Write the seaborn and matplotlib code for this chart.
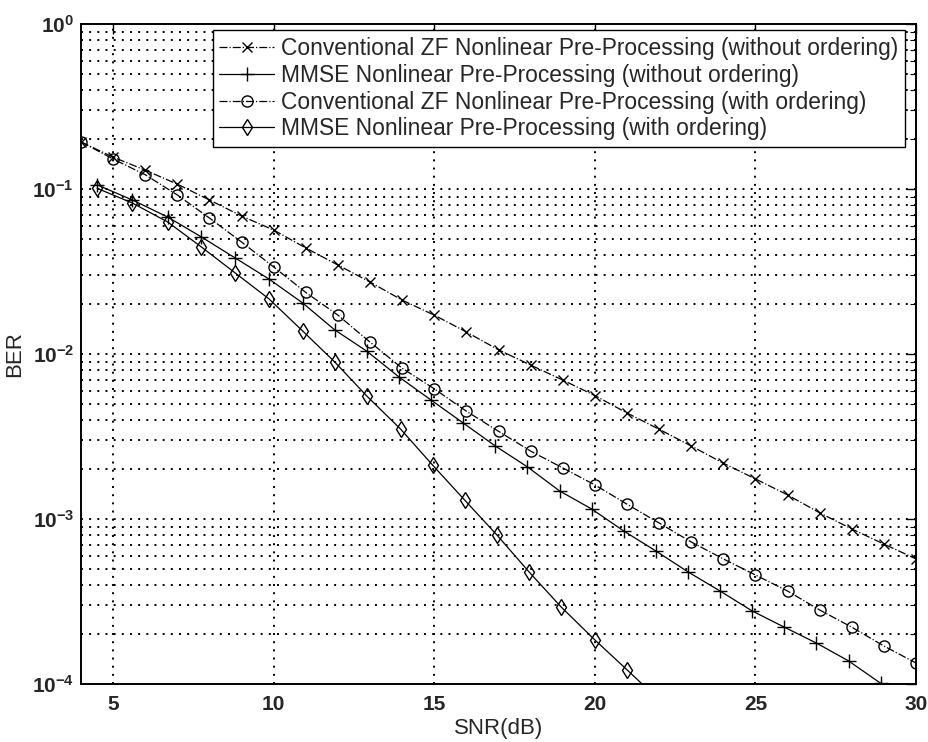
import numpy as np
import pandas as pd
import matplotlib
matplotlib.use("Agg")
import matplotlib.pyplot as plt
from matplotlib.ticker import LogLocator, FixedLocator, NullFormatter
import seaborn as sns

# SNR grids (dB)
snr_zf = [4, 5, 6, 7, 8, 9, 10, 11, 12, 13, 14, 15, 16, 17, 18, 19, 20,
          21, 22, 23, 24, 25, 26, 27, 28, 29, 30]
snr_mmse = [4.5, 5.6, 6.7, 7.75, 8.8, 9.85, 10.9, 11.9, 12.9, 13.9, 14.9,
            15.9, 16.9, 17.9, 18.9, 19.9, 20.9, 21.9, 22.9, 23.9, 24.9,
            25.9, 26.9, 27.9, 28.9]
snr_mmse_ord = [4.5, 5.6, 6.7, 7.75, 8.8, 9.85, 10.9, 11.9, 12.9, 13.95,
                14.95, 15.95, 16.95, 17.95, 18.95, 20.0, 21.0, 22.0]

# BER curves
ber_zf_noord = [0.193, 0.156, 0.130, 0.107, 0.0858, 0.0686, 0.0564, 0.0439,
                0.0346, 0.0273, 0.0212, 0.0172, 0.0136, 0.0106, 0.00857,
                0.00695, 0.0056, 0.00439, 0.0035, 0.00277, 0.00218, 0.00175,
                0.0014, 0.00109, 0.00087, 0.000705, 0.000573]
ber_mmse_noord = [0.106, 0.0858, 0.0676, 0.0512, 0.0382, 0.0285, 0.0204,
                  0.0140, 0.0104, 0.00726, 0.00526, 0.00382, 0.00277, 0.00207,
                  0.00148, 0.00115, 0.000846, 0.00064, 0.000478, 0.000366,
                  0.000277, 0.000221, 0.000177, 0.000138, 0.000101]
ber_zf_ord = [0.193, 0.152, 0.122, 0.092, 0.0667, 0.0477, 0.0337, 0.0236,
              0.0172, 0.0118, 0.0082, 0.00615, 0.00450, 0.00340, 0.00258,
              0.00204, 0.00161, 0.00123, 0.000946, 0.000726, 0.000573,
              0.000458, 0.000366, 0.000281, 0.000221, 0.00017, 0.000134]
ber_mmse_ord = [0.101, 0.0822, 0.0631, 0.0445, 0.031, 0.0216, 0.0138,
                0.00895, 0.00556, 0.00351, 0.00212, 0.0013, 0.0008, 0.000478,
                0.000293, 0.000185, 0.000122, 0.00008]

labels = [
    "Conventional ZF Nonlinear Pre-Processing (without ordering)",
    "MMSE Nonlinear Pre-Processing (without ordering)",
    "Conventional ZF Nonlinear Pre-Processing (with ordering)",
    "MMSE Nonlinear Pre-Processing (with ordering)",
]

sns.set_style("white")
plt.rcParams["font.family"] = ["Liberation Sans", "DejaVu Sans"]
plt.rcParams["mathtext.fontset"] = "custom"
plt.rcParams["mathtext.rm"] = "Liberation Sans"
plt.rcParams["mathtext.default"] = "regular"

fig = plt.figure(figsize=(9.29, 7.42), dpi=100)
ax = fig.add_axes([81 / 929, 1 - 684 / 742, 835 / 929, 660 / 742])

series = [
    (snr_zf, ber_zf_noord, "-.", "x", 7),
    (snr_mmse, ber_mmse_noord, "-", "+", 10),
    (snr_zf, ber_zf_ord, "-.", "o", 8),
    (snr_mmse_ord, ber_mmse_ord, "-", "d", 8),
]
for (xs, ys, ls, mk, ms), lab in zip(series, labels):
    df = pd.DataFrame({"SNR": xs, "BER": ys})
    sns.lineplot(data=df, x="SNR", y="BER", ax=ax, color="black",
                 linestyle=ls, linewidth=0.9, marker=mk, markersize=ms,
                 markerfacecolor="none", markeredgecolor="black",
                 markeredgewidth=1.0, label=lab, sort=False)

ax.set_yscale("log")
ax.set_xlim(4, 30)
ax.set_ylim(1e-4, 1)

ax.xaxis.set_major_locator(FixedLocator([5, 10, 15, 20, 25, 30]))
ax.yaxis.set_major_locator(LogLocator(base=10, numticks=10))
ax.yaxis.set_minor_locator(LogLocator(base=10, subs=np.arange(2, 10), numticks=20))
ax.yaxis.set_minor_formatter(NullFormatter())

grid_kw = dict(color="black", linestyle=(0, (1, 3.2)), linewidth=1.4)
ax.grid(True, which="major", axis="both", **grid_kw)
ax.grid(True, which="minor", axis="y", **grid_kw)

ax.tick_params(which="both", direction="in", top=True, right=True,
               color="black", labelsize=15)
ax.tick_params(axis="x", which="major", pad=8)
ax.tick_params(axis="y", which="major", pad=5)
ax.tick_params(which="major", length=7, width=1.0)
ax.tick_params(which="minor", length=4, width=0.8)
for lab in ax.get_xticklabels() + ax.get_yticklabels():
    lab.set_fontweight("semibold")
for sp in ax.spines.values():
    sp.set_color("black")
    sp.set_linewidth(1.4)

ax.set_xlabel("SNR(dB)", fontsize=16, labelpad=3)
ax.set_ylabel("BER", fontsize=16, labelpad=5)

leg = ax.legend(loc="upper right", bbox_to_anchor=(0.9868, 0.9909),
                borderaxespad=0, fontsize=16.4, frameon=True, fancybox=False,
                edgecolor="black", framealpha=1, handlelength=2.4,
                handletextpad=0.3, labelspacing=0.17, borderpad=0.3)
leg.get_frame().set_linewidth(1.0)

fig.savefig("out.png", dpi=100)
